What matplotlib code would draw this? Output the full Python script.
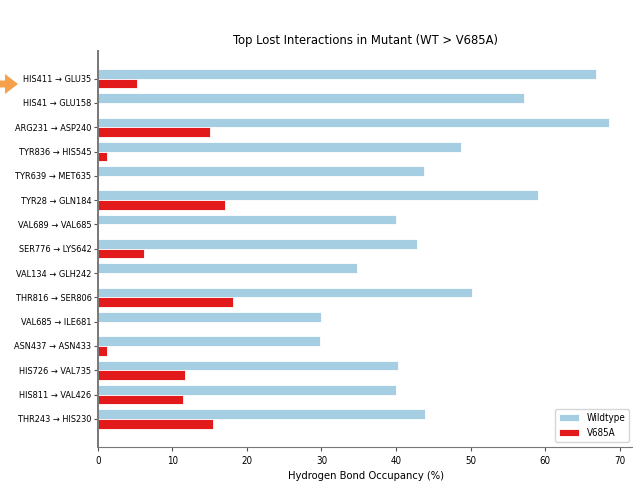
import matplotlib
matplotlib.use("Agg")
import matplotlib.pyplot as plt
import numpy as np

interactions = [
    "HIS411 → GLU35", "HIS41 → GLU158", "ARG231 → ASP240", "TYR836 → HIS545",
    "TYR639 → MET635", "TYR28 → GLN184", "VAL689 → VAL685", "SER776 → LYS642",
    "VAL134 → GLH242", "THR816 → SER806", "VAL685 → ILE681", "ASN437 → ASN433",
    "HIS726 → VAL735", "HIS811 → VAL426", "THR243 → HIS230",
]
wildtype = [66.8, 57.1, 68.5, 48.7, 43.7, 59.0, 40.0, 42.8, 34.8, 50.2, 30.0, 29.8, 40.3, 40.0, 43.9]
mutant = [5.3, 0.0, 15.0, 1.2, 0.0, 17.1, 0.0, 6.2, 0.0, 18.2, 0.0, 1.2, 11.7, 11.4, 15.5]

plt.rcParams['font.family'] = ['DejaVu Sans']
plt.rcParams['font.stretch'] = 'condensed'

fig = plt.figure(figsize=(6.33, 4.84), dpi=100)
W, H = 633, 484
ax = fig.add_axes([97.7 / W, 1 - 446.5 / H, (634 - 97.7) / W, (446.5 - 51.0) / H])

y = np.arange(len(interactions))
h = 0.4
ax.barh(y - h / 2, wildtype, height=h, color='#a6cee3', edgecolor='white', linewidth=0.6, label='Wildtype')
ax.barh(y + h / 2, mutant, height=h, color='#e31a1c', edgecolor='white', linewidth=0.6, label='V685A')

ax.set_yticks(y)
ax.set_yticklabels(interactions, fontsize=6.6)
ax.invert_yaxis()
ax.set_xlim(0, 71.9)
ax.set_xticks(np.arange(0, 71, 10))
ax.tick_params(axis='x', labelsize=7, length=3, color='#555555')
ax.tick_params(axis='y', length=3, pad=1.5, color='#555555')
ax.set_xlabel('Hydrogen Bond Occupancy (%)', fontsize=8.0, labelpad=4)
ax.set_title('Top Lost Interactions in Mutant (WT > V685A)', fontsize=9.3, pad=5)

for s in ['top', 'right']:
    ax.spines[s].set_visible(False)
for s in ['left', 'bottom']:
    ax.spines[s].set_color('#777777')
ax.spines['left'].set_linewidth(1.4)

ax.legend(loc='lower right', fontsize=7, frameon=True, bbox_to_anchor=(1.0, 0.0))

fig.patches.append(matplotlib.patches.FancyArrow(
    -6 / W, 1 - 84 / H, 11 / W, 0, width=7 / H, head_width=20 / H, head_length=13 / W,
    length_includes_head=False, transform=fig.transFigure, color='#f5a04a', linewidth=0))

fig.savefig('out.png', dpi=100)
